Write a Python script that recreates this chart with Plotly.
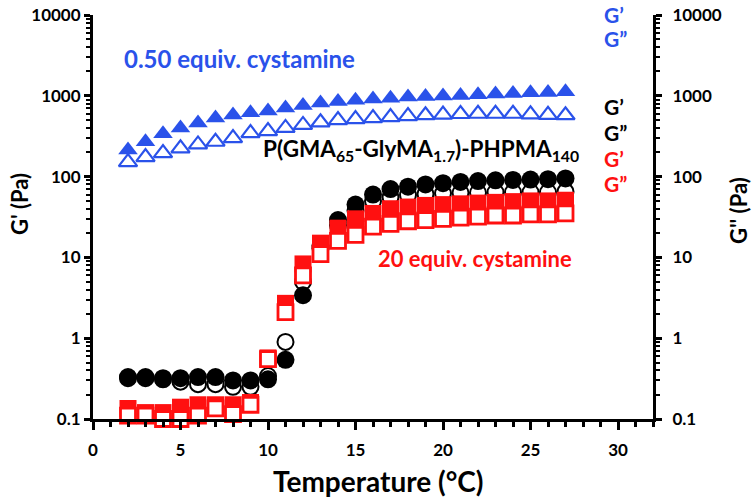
import plotly.graph_objects as go

temperature = list(range(2, 28))

blue_g1 = [214, 270, 339, 400, 460, 530, 580, 615, 650, 705, 760, 815, 850, 880, 910, 935,
           965, 980, 995, 1010, 1030, 1050, 1070, 1090, 1100, 1120]
blue_g2 = [151, 174, 195, 224, 250, 270, 300, 345, 365, 400, 436, 470, 500, 515, 530, 545,
           560, 575, 585, 595, 600, 600, 600, 590, 580, 575]
black_g1 = [0.33, 0.33, 0.32, 0.32, 0.33, 0.33, 0.30, 0.30, 0.31, 0.54, 3.4, 13, 29, 45, 60, 70,
            75, 80, 83, 86, 88, 90, 91, 92, 93, 95]
black_g2 = [0.32, 0.32, 0.31, 0.29, 0.27, 0.27, 0.25, 0.25, 0.34, 0.90, 5.0, 14, 25, 38, 50, 56,
            59, 61, 62, 63, 63, 64, 64, 64, 64, 65]
red_g1 = [0.135, 0.12, 0.12, 0.14, 0.15, 0.15, 0.15, 0.16, 0.57, 2.7, 8.3, 15, 23, 30, 35, 40,
          42, 44, 45, 46, 47, 48, 49, 50, 50, 51]
red_g2 = [0.11, 0.11, 0.10, 0.10, 0.11, 0.135, 0.115, 0.15, 0.55, 2.1, 6.0, 11, 16, 19, 24, 26,
          28, 29, 30, 31, 32, 33, 33, 34, 34, 35]

y_tickvals = [0.1, 1, 10, 100, 1000, 10000]
y_ticktext = ["0.1", "1", "10", "100", "1000", "10000"]
x_tickvals = [0, 5, 10, 15, 20, 25, 30]

BLUE = "#2A52EA"
RED = "#FF1010"
BLACK = "#000000"
FONT = "Lato"

L, R, T, B = 93, 653, 15, 419
W, H = 755, 499

fig = go.Figure()

def add(y, symbol, fill, edge, lw, size):
    fig.add_trace(go.Scatter(
        x=temperature, y=y, mode="markers",
        marker=dict(symbol=symbol, size=size, color=fill,
                    line=dict(color=edge, width=lw)),
        showlegend=False, cliponaxis=False))

add(blue_g2, "triangle-up", "white", BLUE, 2.2, 16)
add(blue_g1, "triangle-up", BLUE, BLUE, 0, 17)
add(black_g2, "circle", "white", BLACK, 2, 16)
add(black_g1, "circle", BLACK, BLACK, 0, 18)
add(red_g1, "square", RED, RED, 0, 17)
add(red_g2, "square", "white", RED, 2.8, 15)

# dummy trace for the right axis
fig.add_trace(go.Scatter(x=[None], y=[None], yaxis="y2", showlegend=False, hoverinfo="skip"))

axis_font = dict(family=FONT, size=17, color="black", weight="bold")
minor_vals = [m * 10 ** e for e in range(-1, 4) for m in range(2, 10)]

fig.update_layout(
    width=W, height=H,
    margin=dict(l=L, r=W - R, t=T, b=H - B, autoexpand=False),
    paper_bgcolor="white", plot_bgcolor="white",
    font=dict(family=FONT),
    xaxis=dict(
        range=[0, 32], tickvals=x_tickvals, ticks="outside", ticklen=8, tickwidth=3,
        tickcolor="black", showline=True, linewidth=3, linecolor="black",
        showgrid=False, zeroline=False, tickfont=axis_font, automargin=False,
        ticklabelstandoff=6,
        minor=dict(ticks="outside", ticklen=5, tickwidth=3, tickcolor="black", dtick=1),
    ),
    yaxis=dict(
        type="log", range=[-1, 4], tickvals=y_tickvals, ticktext=y_ticktext,
        ticks="outside", ticklen=6, tickwidth=3, tickcolor="black",
        showline=True, linewidth=3, linecolor="black", showgrid=False, zeroline=False,
        tickfont=axis_font, automargin=False,
        minor=dict(ticks="outside", ticklen=4, tickwidth=2, tickcolor="black",
                   tickvals=minor_vals),
    ),
    yaxis2=dict(
        type="log", range=[-1, 4], overlaying="y", side="right",
        tickvals=y_tickvals, ticktext=y_ticktext,
        ticks="outside", ticklen=6, tickwidth=3, tickcolor="black",
        showline=True, linewidth=3, linecolor="black", showgrid=False, zeroline=False,
        tickfont=axis_font, automargin=False, ticklabelstandoff=7,
        minor=dict(ticks="outside", ticklen=4, tickwidth=2, tickcolor="black",
                   tickvals=minor_vals),
    ),
)

def px_to_paper(px, py):
    return (px - L) / float(R - L), (B - py) / float(B - T)

def note(text, px, py, color, size=20, xanchor="left", angle=0):
    x, y = px_to_paper(px, py)
    fig.add_annotation(text=text, x=x, y=y, xref="paper", yref="paper",
                       xanchor=xanchor, yanchor="middle", showarrow=False,
                       textangle=angle,
                       font=dict(family=FONT, size=size, color=color, weight="bold"))

# axis titles
note("Temperature (°C)", 378, 481, BLACK, 28, xanchor="center")
note("G' (Pa)", 19, 204, BLACK, 22, xanchor="center", angle=-90)
note("G'' (Pa)", 738, 211, BLACK, 22, xanchor="center", angle=-90)

note("0.50 equiv. cystamine", 122, 59, BLUE, 24)
note("P(GMA<sub>65</sub>-GlyMA<sub>1.7</sub>)-PHPMA<sub>140</sub>", 261, 150, BLACK, 22.5)
note("20 equiv. cystamine", 376, 258, RED, 22)
note("G’", 602, 14, BLUE, 21)
note("G”", 602, 38, BLUE, 21)
note("G’", 602, 107, BLACK, 21)
note("G”", 602, 132, BLACK, 21)
note("G’", 602, 158, RED, 21)
note("G”", 602, 183, RED, 21)

fig.write_html(
    "out.html",
    config={"displayModeBar": False},
    post_script="document.body.style.margin='0px';document.body.style.overflow='hidden';",
)
